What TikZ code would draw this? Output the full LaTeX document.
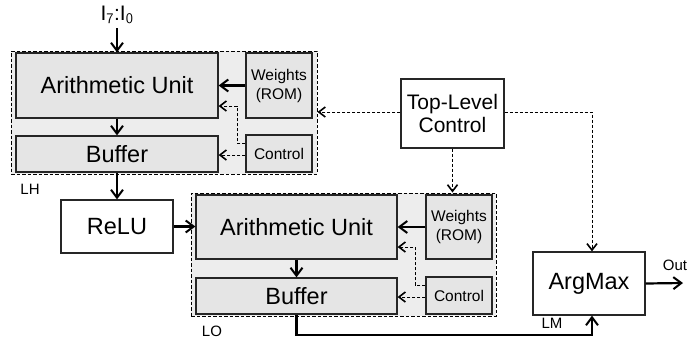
\documentclass[tikz,border=0pt]{standalone}
\usepackage{fontspec}
\setmainfont{Liberation Sans}
\usetikzlibrary{arrows.meta,calc}
\begin{document}
\begin{tikzpicture}[x=1pt,y=-1pt,
  box/.style={draw=black!85,line width=1.2pt,fill=#1,inner sep=0pt,align=center},
  box/.default=gray!20,
  cont/.style={draw=black,line width=1pt,fill=gray!14,dash pattern=on 3.5pt off 2pt},
  solidarrow/.style={line width=2.2pt,-{Straight Barb[length=8pt,width=12pt,line width=2pt]}},
  dasharrow/.style={line width=1pt,dash pattern=on 3pt off 2pt,-{Straight Barb[length=6.5pt,width=10pt,line width=1.6pt]}},
  big/.style={font=\fontsize{23.5}{26}\selectfont},
  mid/.style={font=\fontsize{21}{23}\selectfont},
  small/.style={font=\fontsize{15.5}{19}\selectfont},
  lbl/.style={font=\fontsize{15}{17}\selectfont,inner sep=0pt}]
\useasboundingbox (0,0) rectangle (689,341);
% containers
\node[cont,minimum width=306pt,minimum height=123pt] (LHc) at (164,112.5) {};
\node[cont,minimum width=305pt,minimum height=123pt] (LOc) at (343.5,254.5) {};
% LH layer
\node[box,big,minimum width=202pt,minimum height=65pt] (AU1) at (117,85.5) {Arithmetic Unit};
\node[box,big,minimum width=202pt,minimum height=36pt] (B1) at (117,154) {Buffer};
\node[box,small,minimum width=66pt,minimum height=65pt] (W1) at (279,85.5) {Weights\\(ROM)};
\node[box,small,minimum width=66pt,minimum height=37pt] (C1) at (279,153.5) {Control};
% LO layer
\node[box,big,minimum width=201pt,minimum height=64pt] (AU2) at (296.5,227) {Arithmetic Unit};
\node[box,big,minimum width=201pt,minimum height=36pt] (B2) at (296.5,296) {Buffer};
\node[box,small,minimum width=66pt,minimum height=64pt] (W2) at (459,227) {Weights\\(ROM)};
\node[box,small,minimum width=66pt,minimum height=37pt] (C2) at (459,295.5) {Control};
% others
\node[box=white,big,minimum width=112pt,minimum height=53pt] (RL) at (117,226.5) {ReLU};
\node[box=white,mid,minimum width=103pt,minimum height=69pt] (TLC) at (452.5,113.5) {Top-Level\\Control};
\node[box=white,big,minimum width=112pt,minimum height=63pt] (AM) at (589,283.5) {ArgMax};
% labels
\node[font=\fontsize{21}{23}\selectfont,inner sep=0pt] (IN) at (117,15) {I$_{\mathsf{7}}$:I$_{\mathsf{0}}$};
\node[lbl] (LH) at (30,189) {LH};
\node[lbl] (LO) at (212,331) {LO};
\node[lbl] (LM) at (552,323) {LM};
\node[lbl] (OUT) at (675,265) {Out};
\coordinate (inS) at (117,28);
\coordinate (outE) at (683,283);
% solid arrows
\draw[solidarrow] (inS) -- (AU1.north);
\draw[solidarrow] (AU1.south) -- (B1.north);
\draw[solidarrow] (W1.west) -- (AU1.east |- W1.west);
\draw[solidarrow] (B1.south) -- (RL.north);
\draw[solidarrow] (RL.east) -- (AU2.west |- RL.east);
\draw[solidarrow] (W2.west) -- (AU2.east |- W2.west);
\draw[solidarrow] (AU2.south) -- (B2.north);
\draw[solidarrow] (B2.south) -- (B2.south |- 0,335) -- (592,335) -- (AM.south -| 592,0);
\draw[solidarrow] (AM.east) -- (outE);
% dashed control arrows
\draw[dasharrow] (C1.west |- 0,143) -- (237,143) -- (237,106) -- (AU1.east |- 0,106);
\draw[dasharrow] (C1.west |- 0,155) -- (B1.east |- 0,155);
\draw[dasharrow] (C2.west |- 0,285) -- (415,285) -- (415,247) -- (AU2.east |- 0,247);
\draw[dasharrow] (C2.west |- 0,297) -- (B2.east |- 0,297);
\draw[dasharrow] (TLC.west |- 0,112) -- (LHc.east |- 0,112);
\draw[dasharrow] (TLC.east |- 0,112) -- (592,112) -- (AM.north -| 592,0);
\draw[dasharrow] (TLC.south) -- (LOc.north -| TLC.south);
\end{tikzpicture}
\end{document}
